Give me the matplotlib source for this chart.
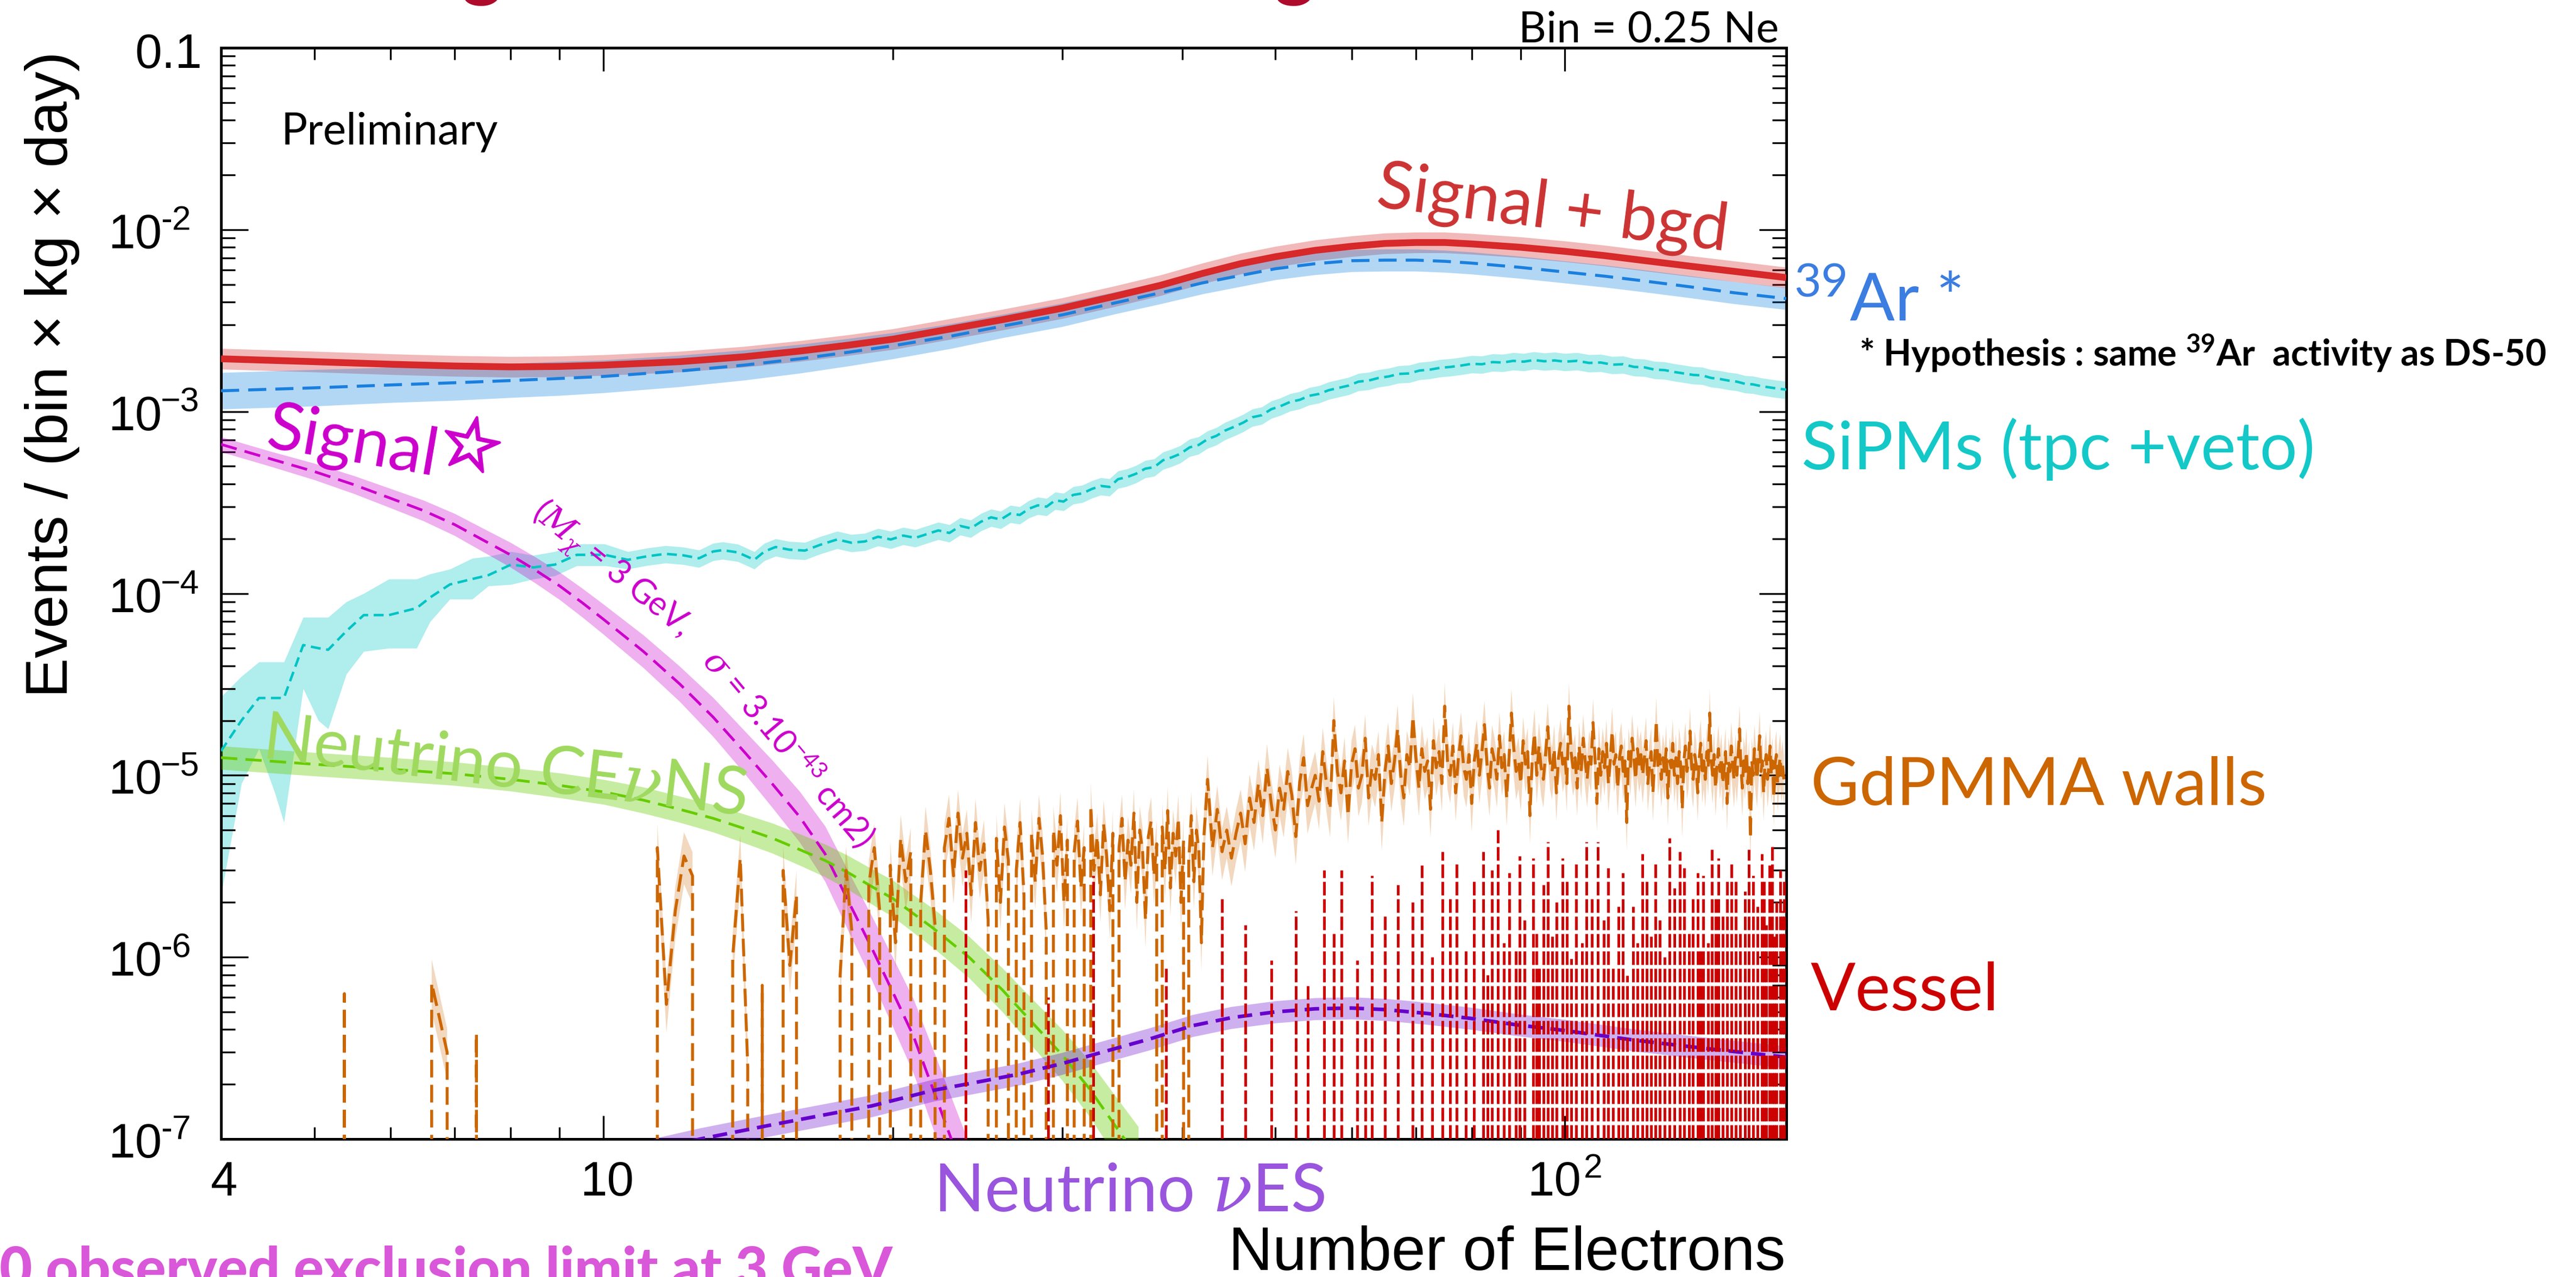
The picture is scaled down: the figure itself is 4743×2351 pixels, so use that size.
import numpy as np
import matplotlib
matplotlib.use("Agg")
import matplotlib.pyplot as plt
from matplotlib import transforms
from matplotlib import patheffects
from matplotlib.ticker import FixedLocator, LogLocator, NullFormatter

plt.rcParams["mathtext.fontset"] = "custom"
plt.rcParams["mathtext.rm"] = "Lato"
plt.rcParams["mathtext.it"] = "DejaVu Serif:italic"
plt.rcParams["mathtext.bf"] = "Lato:bold"

# ------------------------------------------------------------------ data
# Signal + background total (events / (bin kg day)), values in 1e-3
sb_x = [4, 5, 6, 7, 8, 9, 10, 12, 14, 16, 18, 20, 23, 26, 30, 34, 38, 42,
        46, 50, 55, 60, 65, 70, 75, 80, 90, 100, 110, 120, 135, 150, 170]
sb_y = [1.95, 1.88, 1.82, 1.78, 1.76, 1.77, 1.80, 1.88, 2.00, 2.15, 2.32,
        2.50, 2.85, 3.20, 3.70, 4.30, 4.95, 5.75, 6.50, 7.10, 7.70, 8.10,
        8.40, 8.50, 8.50, 8.35, 8.00, 7.60, 7.20, 6.80, 6.30, 5.90, 5.45]
sb_err = 0.14

# 39Ar background (same binning as the total), values in 1e-3
ar_y = [1.30, 1.35, 1.40, 1.44, 1.48, 1.52, 1.56, 1.67, 1.80, 1.95, 2.12,
        2.30, 2.60, 2.95, 3.40, 3.95, 4.50, 5.10, 5.60, 6.10, 6.50, 6.75,
        6.80, 6.80, 6.70, 6.55, 6.20, 5.85, 5.55, 5.25, 4.85, 4.50, 4.18]
ar_err = [0.26, 0.26, 0.25, 0.25, 0.24, 0.24, 0.23, 0.22, 0.21, 0.20,
          0.19, 0.18, 0.17, 0.16, 0.16, 0.15, 0.15, 0.15, 0.15, 0.15,
          0.15, 0.15, 0.15, 0.15, 0.15, 0.15, 0.15, 0.15, 0.15, 0.15,
          0.15, 0.15, 0.15]

# SiPMs (tpc + veto), values in 1e-4
sipm_x = [4.0, 4.2, 4.38, 4.55, 4.65, 4.87, 5.05, 5.17, 5.4, 5.63, 5.98,
          6.39, 6.6, 6.92, 7.3, 7.59, 8.01, 8.45, 8.9, 9.38, 10.03,
          10.6, 11.1, 11.6, 12.1, 12.57, 13.0, 13.3, 13.8, 14.35, 14.7,
          15.1, 15.6, 16.2, 16.8, 17.5, 18.1, 18.7, 19.3, 19.9, 20.5,
          21.1, 21.7, 22.3, 22.9, 23.5, 24.1, 24.7, 25.3, 25.9, 26.5,
          27.1, 27.7, 28.3, 28.9, 29.5, 30.1, 30.8, 31.5, 32.2, 32.9,
          33.6, 34.3, 35.0, 35.8, 36.6, 37.4, 38.2, 39.0, 39.8, 40.7,
          41.6, 42.5, 43.4, 44.3, 45.3, 46.3, 47.3, 48.4, 49.5, 50.6,
          51.8, 53.0, 54.2, 55.5, 56.8, 58.2, 59.6, 61.0, 62.5, 64.0,
          65.6, 67.2, 68.9, 70.6, 72.4, 74.2, 76.1, 78.0, 80.0, 82.0,
          84.1, 86.2, 88.4, 90.6, 92.9, 95.2, 97.6, 100, 103, 106,
          109, 112, 115, 118, 121, 124, 127, 130, 133, 136,
          139, 142, 145, 148, 151, 154, 157, 160, 163, 166, 170]
sipm_y = [0.136, 0.20, 0.266, 0.266, 0.266, 0.52, 0.50, 0.49, 0.62, 0.76,
          0.76, 0.83, 0.95, 1.12, 1.20, 1.26, 1.44, 1.39, 1.44, 1.63, 1.63,
          1.53, 1.60, 1.65, 1.62, 1.56, 1.70, 1.73, 1.68, 1.53, 1.70,
          1.80, 1.74, 1.72, 1.85, 1.98, 1.90, 1.93, 2.05, 1.98, 2.08,
          2.02, 2.12, 2.22, 2.15, 2.35, 2.28, 2.48, 2.62, 2.55, 2.75,
          2.70, 2.92, 3.05, 3.00, 3.25, 3.20, 3.48, 3.55, 3.75, 3.90,
          3.85, 4.25, 4.35, 4.55, 4.85, 4.95, 5.40, 5.60, 5.85, 6.35,
          6.55, 7.05, 7.35, 7.85, 8.25, 8.70, 9.30, 9.55, 10.3, 10.7,
          11.3, 11.6, 12.2, 12.5, 13.1, 13.5, 13.9, 14.6, 14.8, 15.3,
          15.6, 16.1, 16.2, 16.8, 17.0, 17.4, 17.6, 17.9, 18.3, 18.2,
          18.7, 18.6, 19.0, 18.8, 19.2, 18.9, 19.1, 18.8, 19.0, 18.5,
          18.6, 18.1, 18.2, 17.6, 17.5, 17.0, 16.9, 16.5, 16.2, 15.9,
          15.8, 15.3, 15.1, 14.8, 14.6, 14.2, 14.1, 13.8, 13.6, 13.4, 13.2]
# uncertainty band of the low-statistics region (first 21 points), 1e-4
sipm_lo_head = [0.022, 0.09, 0.14, 0.08, 0.055, 0.30, 0.20, 0.18, 0.36, 0.48,
                0.50, 0.50, 0.70, 0.93, 0.93, 1.10, 1.12, 1.20, 1.25, 1.42, 1.42]
sipm_hi_head = [0.27, 0.35, 0.42, 0.42, 0.42, 0.74, 0.74, 0.74, 0.90, 1.00,
                1.20, 1.20, 1.28, 1.36, 1.56, 1.60, 1.70, 1.62, 1.70, 1.87, 1.87]
sipm_err_tail = 0.11

# WIMP signal (M = 3 GeV, sigma = 3e-43 cm2), values in 1e-4
sig_x = [4, 4.5, 5, 5.5, 6, 6.5, 7, 7.5, 8, 8.5, 9, 9.5, 10, 11, 12, 13, 14,
         15, 16, 17, 18, 19, 20, 21, 22, 23, 24]
sig_y = [6.6, 5.5, 4.68, 3.96, 3.34, 2.85, 2.39, 1.96, 1.63, 1.34, 1.10,
         0.89, 0.72, 0.48, 0.318, 0.209, 0.135, 0.089, 0.059, 0.037, 0.020,
         0.0113, 0.0064, 0.0037, 0.0019, 0.0010, 0.00054]
sig_err = [0.10, 0.10, 0.11, 0.12, 0.13, 0.14, 0.15, 0.16, 0.17, 0.18, 0.19,
           0.20, 0.21, 0.23, 0.25, 0.28, 0.31, 0.35, 0.38, 0.42, 0.46, 0.50,
           0.55, 0.60, 0.65, 0.70, 0.75]

# Neutrino CEvNS, values in 1e-6
cevns_x = [4, 5, 6, 7, 8, 9, 10, 11, 12, 13, 14, 15, 16, 17, 18, 19, 20, 22,
           24, 26, 28, 30, 32, 34, 36]
cevns_y = [12.5, 11.5, 10.8, 10.2, 9.5, 8.8, 8.1, 7.3, 6.5, 5.8, 5.1, 4.5,
           3.9, 3.4, 2.9, 2.45, 2.1, 1.45, 1.0, 0.66, 0.43, 0.29, 0.19, 0.12,
           0.078]
cevns_err = [0.16, 0.16, 0.16, 0.16, 0.16, 0.17, 0.17, 0.18, 0.18, 0.19,
             0.20, 0.21, 0.22, 0.23, 0.24, 0.25, 0.26, 0.28, 0.30, 0.32,
             0.35, 0.38, 0.42, 0.46, 0.50]

# Neutrino electron scattering, values in 1e-7
ves_x = [10, 11, 12.6, 15, 17, 19, 22, 25, 27, 30, 33, 37, 41, 45, 50, 55,
         60, 65, 72, 80, 89, 100, 118, 140, 170]
ves_y = [0.75, 0.85, 1.0, 1.2, 1.36, 1.52, 1.85, 2.1, 2.27, 2.6, 3.0, 3.55,
         4.2, 4.65, 5.0, 5.2, 5.25, 5.15, 4.9, 4.6, 4.25, 3.95, 3.5, 3.15,
         2.82]
ves_err = 0.15

# GdPMMA walls: low-statistics clusters (first bin centre, contents in 1e-6)
gd_clusters = [
    (5.375, [0.63]),
    (6.625, [0.72, 0.30]),
    (7.375, [0.38]),
    (11.375, [4.0, 0.55, 1.8, 3.6, 2.8]),
    (13.625, [1.0, 3.5, 0.25]),
    (14.625, [0.70]),
    (15.375, [3.0, 0.9, 2.2]),
    (17.625, [0.8, 3.0, 1.4]),
    (18.875, [2.5, 4.0, 1.8]),
    (19.875, [3.2, 1.2, 4.5, 2.6, 3.8]),
    (21.375, [2.0, 5.0, 3.0, 1.5]),
    (22.625, [4.0, 5.8, 2.8, 6.2, 3.5, 4.8, 2.2, 5.5, 3.0, 4.2, 1.6]),
    (25.625, [4.5, 2.0, 5.2, 3.4]),
    (26.875, [3.0, 5.5, 2.2]),
    (27.875, [4.8, 2.6, 5.8, 3.6, 1.4]),
    (29.375, [5.0, 3.2, 6.0, 2.0, 4.4]),
    (30.875, [3.8, 5.6, 2.4, 4.0]),
    (32.125, [6.8, 3.0, 4.6, 2.2, 5.4, 3.6, 1.8, 4.8]),
    (34.375, [4.0, 5.8, 2.6, 4.4, 3.2, 6.2, 2.0, 5.0, 3.8, 1.6, 4.6, 5.6,
              2.8, 4.2]),
    (38.125, [5.2, 3.0, 6.4, 2.4, 4.8, 3.6, 5.8, 2.0, 4.4]),
    (40.625, [3.4, 6.0, 2.6, 5.0, 3.8, 1.2, 4.6, 7.5]),
]
gd_bin = 0.25
gd_sparse_start, gd_sparse_stop = 4.125, 42.375
# GdPMMA walls: well populated region, 0.5 Ne steps from 42.5, contents in 1e-6
gd_dense_start, gd_dense_step = 42.5, 0.5
gd_dense_y = [
    9.5, 4.0, 6.5, 3.8, 5.0, 3.5, 4.8, 6.2, 4.2, 7.5,
    5.5, 9.0, 6.0, 11.0, 7.0, 5.0, 8.5, 6.5, 10.5, 7.8, 4.6, 9.2, 12.5, 6.8,
    8.4, 10.0,
    7.2, 13.5, 9.0, 6.5, 20.0, 10.5, 8.0, 12.0, 6.0, 11.5, 14.0, 8.5, 10.0,
    16.0, 7.5, 11.0, 9.5, 13.0, 5.5, 10.5,
    14.5, 9.0, 12.0, 18.0, 10.0, 7.5, 13.0, 11.0, 21.0, 12.5, 8.5, 14.0, 10.5,
    12.0, 6.5, 15.5, 11.0, 13.5, 9.0, 24.0, 12.0, 10.0, 14.5, 8.0, 12.5, 16.5,
    11.0, 9.5, 13.0, 7.0,
    12.0, 15.0, 10.0, 13.5, 19.0, 11.5, 8.5, 14.0, 12.0, 9.5,
    16.5, 11.0, 13.0, 7.5, 12.5, 22.0, 14.0, 10.5, 12.0, 9.0,
    15.5, 11.5, 13.5, 6.0, 12.5, 17.0, 10.0, 14.5, 11.0, 9.5,
    13.0, 18.5, 12.0, 10.5, 14.0, 8.0, 12.5, 15.0, 11.5, 13.0,
    9.0, 24.0, 13.5, 11.0, 12.5, 8.5, 14.5, 10.5, 16.0, 12.0,
    9.5, 13.0, 11.5, 19.5, 12.5, 7.0, 14.0, 10.0, 13.5, 11.0,
    15.0, 9.0, 12.0, 17.5, 11.5, 13.0, 8.5, 12.5, 14.5, 10.5,
    12.0, 5.5, 13.5, 11.0, 16.0, 12.5, 9.5, 14.0, 11.5, 13.0,
    10.0, 12.5, 15.5, 9.0, 11.5, 13.5, 8.0, 12.0, 20.0, 11.0,
    13.0, 9.5, 12.5, 10.5, 14.0, 7.5, 12.0, 11.0, 15.0, 10.0,
    12.5, 9.0, 13.5, 11.5, 6.5, 12.0, 14.5, 10.5, 12.0, 17.5,
    11.0, 9.5, 13.0, 11.5, 8.0, 12.5, 15.0, 10.0, 12.0, 9.5,
    13.5, 11.0, 22.0, 12.0, 10.0, 13.0, 8.5, 11.5, 14.0, 10.5,
    12.5, 9.0, 11.0, 13.5, 7.0, 12.0, 10.5, 14.5, 11.5, 9.5,
    12.5, 10.0, 13.0, 18.0, 11.0, 8.5, 12.0, 10.5, 13.5, 9.0,
    11.5, 4.5, 12.0, 10.0, 14.0, 11.0, 9.5, 12.5, 16.5, 10.5,
    12.0, 8.0, 11.5, 13.0, 9.5, 11.0, 14.5, 10.0, 12.0, 7.5,
    11.5, 13.0, 9.0, 11.0, 12.5, 10.0, 11.5, 9.5]
gd_lo_frac, gd_hi_frac = 0.70, 1.35

# Vessel: isolated populated bins (centre, content in 1e-6)
vessel_x = [23.8, 29.0, 32.3, 38.5, 44.0, 46.5, 49.5, 52.5, 54.0, 56.2,
            57.5, 58.6, 60.8, 62.0, 63.0, 65.0, 67.1, 69.5, 71.0, 72.8,
            74.6, 76.0, 77.2, 78.9, 80.5, 82.3, 83.1, 84.0, 85.2, 86.4,
            87.5, 88.9, 89.8, 90.8, 92.7, 93.4, 94.0, 95.0, 96.0, 97.0,
            98.1, 99.5, 100.5, 101.6, 102.8, 104.2, 105.3, 106.7, 108.3,
            109.8, 111.0, 112.3, 113.7, 114.9, 116.1, 117.8, 119.0, 120.5,
            121.7, 122.9, 124.2, 125.5, 127.0, 128.5, 130.0, 131.8, 133.2,
            134.7, 136.0, 137.5, 138.4, 139.3, 141.0, 142.2, 143.5, 144.5,
            146.0, 147.6, 149.1, 150.6, 152.2, 153.9, 155.4, 157.0, 158.6,
            160.3, 161.2, 162.0, 163.2, 164.3, 165.2, 166.0, 167.5, 168.5,
            169.2]
vessel_y = [3.0, 0.6, 2.8, 0.9, 2.2, 1.5, 0.96, 1.8, 0.7, 3.0,
            1.4, 3.0, 0.96, 0.45, 2.8, 1.7, 2.5, 2.0, 3.2, 1.0,
            3.8, 2.2, 3.4, 1.1, 2.6, 3.8, 0.8, 3.0, 5.0, 1.2,
            2.9, 1.1, 3.6, 1.6, 3.5, 1.4, 0.88, 2.5, 4.3, 1.3,
            2.0, 3.5, 2.7, 0.98, 3.3, 1.2, 4.3, 2.2, 4.3,
            1.6, 3.1, 0.9, 1.9, 2.9, 0.79, 1.9, 1.2, 3.7,
            2.6, 1.3, 3.3, 1.6, 1.0, 4.5, 2.4, 3.8, 3.1,
            1.35, 2.2, 2.9, 1.1, 2.8, 1.2, 3.9, 2.1, 3.5,
            1.7, 2.7, 3.3, 2.6, 1.4, 2.3, 3.9, 2.8, 1.9,
            3.7, 2.6, 1.5, 3.2, 4.2, 1.3, 2.0, 3.0, 1.8,
            2.6]

# axis ticks and labels (base number, exponent)
y_tick_vals = [1e-1, 1e-2, 1e-3, 1e-4, 1e-5, 1e-6, 1e-7]
y_tick_base = ["0.1", "10", "10", "10", "10", "10", "10"]
y_tick_sup = ["", "-2", "\u22123", "\u22124", "\u22125", "-6", "-7"]
x_tick_vals = [4, 10, 100]
x_tick_base = ["4", "10", "10"]
x_tick_sup = ["", "", "2"]
x_minor = [5, 6, 7, 8, 9, 20, 30, 40, 50, 60, 70, 80, 90]

# ------------------------------------------------------------------ helpers
W, H, DPI = 4743, 2351, 100
PT = 72.0 / DPI  # points per pixel


def fxy(px, py):
    return px / W, 1.0 - py / H


def grid_from_clusters(clusters, start, stop, step):
    centres = np.arange(start, stop + step / 2, step)
    vals = np.zeros_like(centres)
    for first, contents in clusters:
        i0 = int(round((first - start) / step))
        vals[i0:i0 + len(contents)] = contents
    return centres, vals


# ------------------------------------------------------------------ figure
fig = plt.figure(figsize=(W / DPI, H / DPI), dpi=DPI)
ax = fig.add_axes([407 / W, 1 - 2097 / H, (3289 - 407) / W, (2097 - 88) / H])
ax.set_xscale("log")
ax.set_yscale("log")
ax.set_xlim(4, 170)
ax.set_ylim(1e-7, 0.1)

# SiPMs
sx = np.array(sipm_x)
sy = np.array(sipm_y) * 1e-4
n_head = len(sipm_lo_head)
s_lo = np.concatenate([np.array(sipm_lo_head) * 1e-4,
                       sy[n_head:] * (1 - sipm_err_tail)])
s_hi = np.concatenate([np.array(sipm_hi_head) * 1e-4,
                       sy[n_head:] * (1 + sipm_err_tail)])
ax.fill_between(sx, s_lo, s_hi, color="#00c8c8", alpha=0.31, lw=0, zorder=1)
ax.plot(sx, sy, color="#00c4c4", lw=3.3, dashes=(4, 2.2), zorder=5)

# total and 39Ar
bx = np.array(sb_x)
by = np.array(sb_y) * 1e-3
ay = np.array(ar_y) * 1e-3
ae = np.array(ar_err)
ax.fill_between(bx, by / (1 + sb_err), by * (1 + sb_err), color="#d62728",
                alpha=0.32, lw=0, zorder=2)
ax.fill_between(bx, ay / (1 + ae), ay * (1 + ae), color="#007de1",
                alpha=0.30, lw=0, zorder=2)
ax.plot(bx, by, color="#d7282a", lw=9.0, solid_capstyle="butt", zorder=6)
ax.plot(bx, ay, color="#1a7fde", lw=4.0, dashes=(6, 3), zorder=6)

# signal
gx = np.array(sig_x)
gy = np.array(sig_y) * 1e-4
ge = np.array(sig_err)
ax.fill_between(gx, gy / (1 + ge), gy * (1 + ge), color="#cc00cc",
                alpha=0.31, lw=0, zorder=3)
ax.plot(gx, gy, color="#cc00cc", lw=3.6, dashes=(6, 3), zorder=6)

# CEvNS
cx = np.array(cevns_x)
cy = np.array(cevns_y) * 1e-6
ce = np.array(cevns_err)
ax.fill_between(cx, cy / (1 + ce), cy * (1 + ce), color="#66cc00",
                alpha=0.37, lw=0, zorder=3)
ax.plot(cx, cy, color="#66cc00", lw=3.6, dashes=(6, 3), zorder=6)

# GdPMMA walls
gdx_s, gdy_s = grid_from_clusters(gd_clusters, gd_sparse_start,
                                  gd_sparse_stop, gd_bin)
gdx_d = gd_dense_start + gd_dense_step * np.arange(len(gd_dense_y))
gdx = np.concatenate([gdx_s, gdx_d])
gdy = np.concatenate([gdy_s, np.array(gd_dense_y)]) * 1e-6
ax.fill_between(gdx, gdy * gd_lo_frac, gdy * gd_hi_frac, color="#cc6600",
                alpha=0.25, lw=0, zorder=3)
ax.plot(gdx, gdy, color="#cc6600", lw=3.9, dashes=(6, 2.5), zorder=7)

# neutrino electron scattering
vx = np.array(ves_x)
vy = np.array(ves_y) * 1e-7
ax.fill_between(vx, vy / (1 + ves_err), vy * (1 + ves_err), color="#6600cc",
                alpha=0.31, lw=0, zorder=3)
ax.plot(vx, vy, color="#6600cc", lw=4.8, dashes=(4, 2.2), zorder=7)

# vessel: each populated bin drawn as a dashed bar from zero
ax.vlines(vessel_x, 0, np.array(vessel_y) * 1e-6, colors="#cc0000",
          linewidth=3.6, linestyles=[(0, (5, 1.4))], zorder=8)

# ------------------------------------------------------------------ axes
for sp in ax.spines.values():
    sp.set_linewidth(3.6)
ax.xaxis.set_major_locator(FixedLocator([10, 100]))
ax.xaxis.set_minor_locator(FixedLocator(x_minor))
ax.yaxis.set_major_locator(LogLocator(base=10, numticks=20))
ax.yaxis.set_minor_locator(LogLocator(base=10, subs=np.arange(2, 10),
                                      numticks=20))
for a in (ax.xaxis, ax.yaxis):
    a.set_major_formatter(NullFormatter())
    a.set_minor_formatter(NullFormatter())
ax.tick_params(which="both", direction="in", top=True, right=True,
               labelbottom=False, labelleft=False, width=2.4)
ax.tick_params(axis="x", which="major", length=31)
ax.tick_params(axis="x", which="minor", length=16)
ax.tick_params(axis="y", which="major", length=36)
ax.tick_params(axis="y", which="minor", length=19)

base_font = dict(family="Liberation Sans", fontsize=64, color="black",
                 va="baseline", clip_on=False)
sup_font = dict(family="Liberation Sans", fontsize=45, color="black",
                va="baseline", clip_on=False)


def ax_offset(tr, dx_px, dy_px):
    return transforms.offset_copy(tr, fig=fig, x=dx_px * PT, y=dy_px * PT,
                                  units="points")


ytr = ax.get_yaxis_transform()
for v, b, s in zip(y_tick_vals, y_tick_base, y_tick_sup):
    if s:
        ax.text(0, v, b, transform=ax_offset(ytr, -208, -34), ha="left",
                **base_font)
        ax.text(0, v, s, transform=ax_offset(ytr, -111, 0), ha="left",
                **sup_font)
    else:
        ax.text(0, v, b, transform=ax_offset(ytr, -35, -37), ha="right",
                **base_font)

xtr = ax.get_xaxis_transform()
for v, b, s in zip(x_tick_vals, x_tick_base, x_tick_sup):
    if s:
        ax.text(v, 0, b, transform=ax_offset(xtr, 30, -104), ha="right",
                **base_font)
        ax.text(v, 0, s, transform=ax_offset(xtr, 35, -71), ha="left",
                **sup_font)
    else:
        ax.text(v, 0, b, transform=ax_offset(xtr, 6, -104), ha="center",
                **base_font)

fig.text(*fxy(96, 94), "Events / (bin \u00d7 kg \u00d7 day)", rotation=90,
         ha="center", va="top", family="Liberation Sans", fontsize=79)
fig.text(*fxy(3287, 2338), "Number of Electrons", ha="right", va="baseline",
         family="Liberation Sans", fontsize=81)

# ------------------------------------------------------------------ labels
lab = dict(family="Lato", fontsize=88)
fig.text(*fxy(518, 265), "Preliminary", family="Lato", fontsize=58,
         ha="left", va="baseline")
fig.text(*fxy(3275, 78), "Bin = 0.25 Ne", family="Lato", fontsize=57,
         ha="right", va="baseline")
fig.text(*fxy(2532, 380), "Signal + bgd", color="#cc3333", rotation=-7.2,
         rotation_mode="anchor", ha="left", va="baseline", **lab)
fig.text(*fxy(3302, 591), r"$^{39}$Ar *", color="#3b7de0",
         ha="left", va="baseline", **lab)
fig.text(*fxy(3423, 674),
         r"* Hypothesis : same $^{\mathbf{39}}$Ar  activity as DS-50",
         family="Lato", fontweight="bold", fontsize=48, ha="left",
         va="baseline")
fig.text(*fxy(3317, 864), "SiPMs (tpc +veto)", color="#14c8c8",
         ha="left", va="baseline", **lab)
fig.text(*fxy(3334, 1482), "GdPMMA walls", color="#cc6600",
         ha="left", va="baseline", **lab)
fig.text(*fxy(3334, 1860), "Vessel", color="#cc0000",
         ha="left", va="baseline", **lab)
fig.text(*fxy(1719, 2230), r"Neutrino $\nu$ES", color="#9955dd",
         ha="left", va="baseline", **lab)
fig.text(*fxy(480, 1395), r"Neutrino CE$\nu$NS", color="#9fd95f",
         rotation=-6.8, rotation_mode="anchor", ha="left", va="baseline",
         **lab)
fig.text(*fxy(488, 823), "Signal", color="#cc00cc", rotation=-9.7,
         rotation_mode="anchor", ha="left", va="baseline", **lab)
fig.text(*fxy(866, 826), "\u2606", color="#cc00cc", family="DejaVu Sans",
         fontsize=95, rotation=-12, ha="center", va="center",
         path_effects=[patheffects.withStroke(linewidth=3.5,
                                              foreground="#cc00cc")])
small = dict(family="Lato", fontsize=44, color="#cc00cc",
             rotation_mode="anchor", ha="left", va="baseline")
fig.text(*fxy(978, 948), r"$(M_{\chi}$ = 3 GeV,", rotation=-39, **small)
fig.text(*fxy(1292, 1217), r"$\sigma$ = 3.10$^{-43}$ cm2)", rotation=-50,
         **small)

# slide text running off the bottom and top edges
fig.text(*fxy(1643, 2371), "0 observed exclusion limit at 3 GeV",
         family="Lato", fontweight="black", fontsize=75, color="#d957d9",
         ha="right", va="baseline")
for gx_px in (888, 2384):
    fig.text(*fxy(gx_px, -14), "g", family="Lato", fontweight="black",
             fontsize=100, color="#ad0a2c", ha="center", va="baseline")

fig.savefig("out.png", dpi=DPI)
